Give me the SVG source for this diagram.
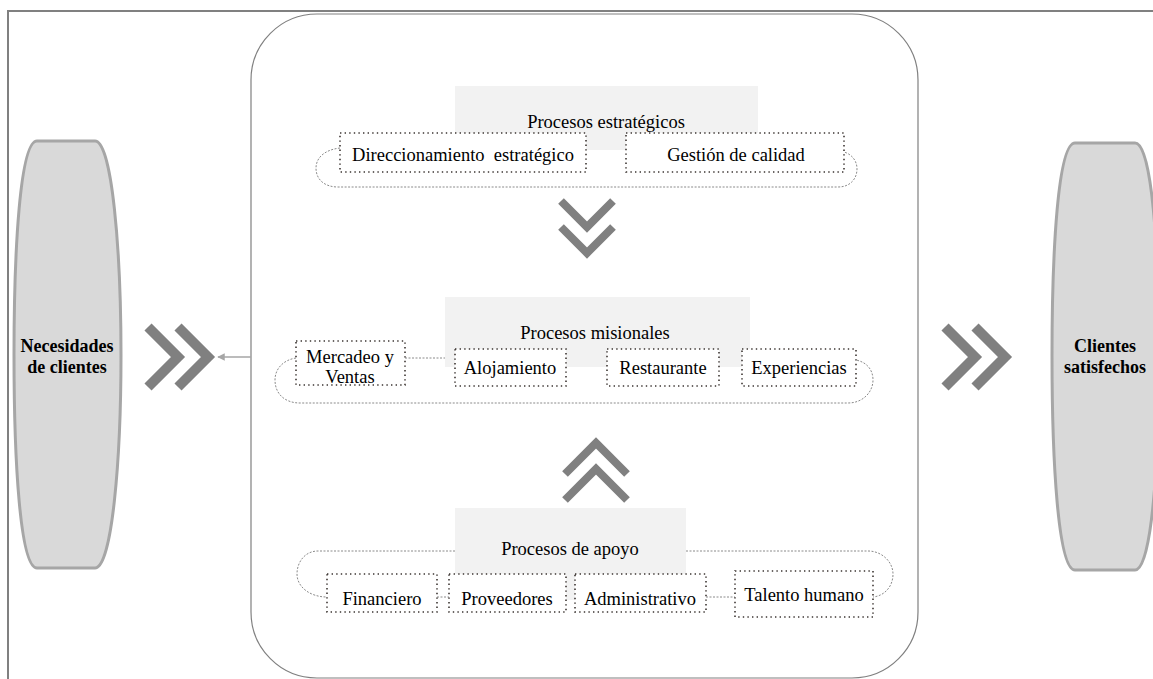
<svg xmlns="http://www.w3.org/2000/svg" width="1153" height="679" viewBox="0 0 1153 679">
  <defs>
    <style>
      .frame { fill: none; stroke: #808080; stroke-width: 2; }
      .panel { fill: #ffffff; stroke: #808080; stroke-width: 1.2; }
      .cap { fill: #d9d9d9; stroke: #a6a6a6; stroke-width: 3; }
      .head { fill: #f2f2f2; stroke: none; }
      .box { fill: #ffffff; stroke: #3d3633; stroke-width: 1.6; stroke-dasharray: 1.4 3.2; }
      .loop { fill: none; stroke: #8a8a8a; stroke-width: 1; stroke-dasharray: 2 1.5; }
      .chev { fill: none; stroke: #808080; stroke-width: 10; stroke-linejoin: miter; stroke-linecap: butt; }
      .chevv { fill: none; stroke: #808080; stroke-width: 8; stroke-linejoin: miter; stroke-linecap: butt; }
      .flow { fill: none; stroke: #a6a6a6; stroke-width: 1.5; }
      text { font-family: 'Liberation Serif', Tinos, 'DejaVu Serif', serif; font-size: 18.5px; fill: #000000; text-anchor: middle; }
      text.bold { font-weight: bold; font-size: 18px; }
    </style>
    <marker id="arrowHead" viewBox="0 0 10 10" refX="9" refY="5" markerWidth="5" markerHeight="5" orient="auto">
      <path d="M0,0 L10,5 L0,10 z" fill="#a6a6a6"/>
    </marker>
  </defs>

  <!-- outer frame: top and left rules only -->
  <path class="frame" d="M8,679 L8,11 L1153,11"/>

  <!-- central process panel -->
  <rect id="panel" class="panel" x="251" y="14" width="667" height="664" rx="66" ry="66"/>

  <!-- side capsules -->
  <g id="necesidades">
    <path class="cap" d="M37,141 L95,141 C112,141 121,250 121,355 C121,460 112,568 95,568 L37,568 C20,568 14,460 14,355 C14,250 20,141 37,141 Z"/>
    <text class="bold" x="67" y="352">Necesidades</text>
    <text class="bold" x="67" y="373">de clientes</text>
  </g>
  <g id="satisfechos">
    <path class="cap" d="M1075,143 L1135,143 C1152,143 1159,250 1159,356 C1159,460 1152,570 1135,570 L1075,570 C1058,570 1052,460 1052,356 C1052,250 1058,143 1075,143 Z"/>
    <text class="bold" x="1105" y="352">Clientes</text>
    <text class="bold" x="1105" y="373">satisfechos</text>
  </g>

  <!-- flow chevrons -->
  <g id="chevrons">
    <polyline class="chev" points="148,327 178,357 148,387"/>
    <polyline class="chev" points="178,327 208,357 178,387"/>
    <polyline class="chev" points="945,327 975,357 945,387"/>
    <polyline class="chev" points="975,327 1005,357 975,387"/>
    <polyline class="chevv" points="561,201 587,227 613,201"/>
    <polyline class="chevv" points="561,227 587,253 613,227"/>
    <polyline class="chevv" points="565,474 596,443 627,474"/>
    <polyline class="chevv" points="565,500 596,469 627,500"/>
  </g>

  <!-- connectors -->
  <g id="connectors">
    <line class="flow" x1="251" y1="357" x2="218" y2="357" marker-end="url(#arrowHead)"/>
    <!-- strategic loop and link -->
    <path class="loop" d="M340,148 C323,150 316,159 316,168 C316,180 325,187 338,187 L838,187 C851,187 857,178 857,169 C857,160 851,154 844,152"/>
    <path class="loop" d="M586,147 L626,147"/>
    <!-- missional loop and link -->
    <path class="loop" d="M296,358 C283,360 275,369 275,380 C275,394 285,403 300,403 L848,403 C863,403 873,392 873,380 C873,369 866,362 856,360"/>
    <path class="loop" d="M405,358 L455,358"/>
    <!-- support loop and links -->
    <path class="loop" d="M455,551 L318,551 C305,551 297,562 297,574 C297,587 310,597 327,597"/>
    <path class="loop" d="M686,551 L868,551 C882,551 893,562 893,574 C893,587 884,596 873,597"/>
    <path class="loop" d="M437,597 L449,597"/>
    <path class="loop" d="M566,597 L575,597"/>
    <path class="loop" d="M706,597 L735,597"/>
  </g>

  <!-- strategic processes -->
  <g id="estrategicos">
    <rect class="head" x="455" y="86" width="303" height="64"/>
    <text x="606" y="128">Procesos estratégicos</text>
  </g>
  <g id="direccionamiento">
    <rect class="box" x="340" y="133" width="246" height="39"/>
    <text x="463" y="161" style="white-space:pre">Direccionamiento  estratégico</text>
  </g>
  <g id="calidad">
    <rect class="box" x="626" y="133" width="218" height="39"/>
    <text x="736" y="161">Gestión de calidad</text>
  </g>

  <!-- missional processes -->
  <g id="misionales">
    <rect class="head" x="445" y="297" width="305" height="70"/>
    <text x="595" y="339">Procesos misionales</text>
  </g>
  <g id="mercadeo">
    <rect class="box" x="296" y="341" width="109" height="44"/>
    <text x="350" y="363">Mercadeo y</text>
    <text x="350" y="383">Ventas</text>
  </g>
  <g id="alojamiento">
    <rect class="box" x="455" y="349" width="111" height="37"/>
    <text x="510" y="374">Alojamiento</text>
  </g>
  <g id="restaurante">
    <rect class="box" x="607" y="349" width="112" height="37"/>
    <text x="663" y="374">Restaurante</text>
  </g>
  <g id="experiencias">
    <rect class="box" x="742" y="349" width="114" height="37"/>
    <text x="799" y="374">Experiencias</text>
  </g>

  <!-- support processes -->
  <g id="apoyo">
    <rect class="head" x="455" y="508" width="231" height="92"/>
    <text x="570" y="555">Procesos de apoyo</text>
  </g>
  <g id="financiero">
    <rect class="box" x="327" y="574" width="110" height="38"/>
    <text x="382" y="605">Financiero</text>
  </g>
  <g id="proveedores">
    <rect class="box" x="449" y="574" width="117" height="38"/>
    <text x="507" y="605">Proveedores</text>
  </g>
  <g id="administrativo">
    <rect class="box" x="575" y="574" width="131" height="38"/>
    <text x="640" y="605">Administrativo</text>
  </g>
  <g id="talento">
    <rect class="box" x="735" y="571" width="138" height="46"/>
    <text x="804" y="601">Talento humano</text>
  </g>
</svg>
